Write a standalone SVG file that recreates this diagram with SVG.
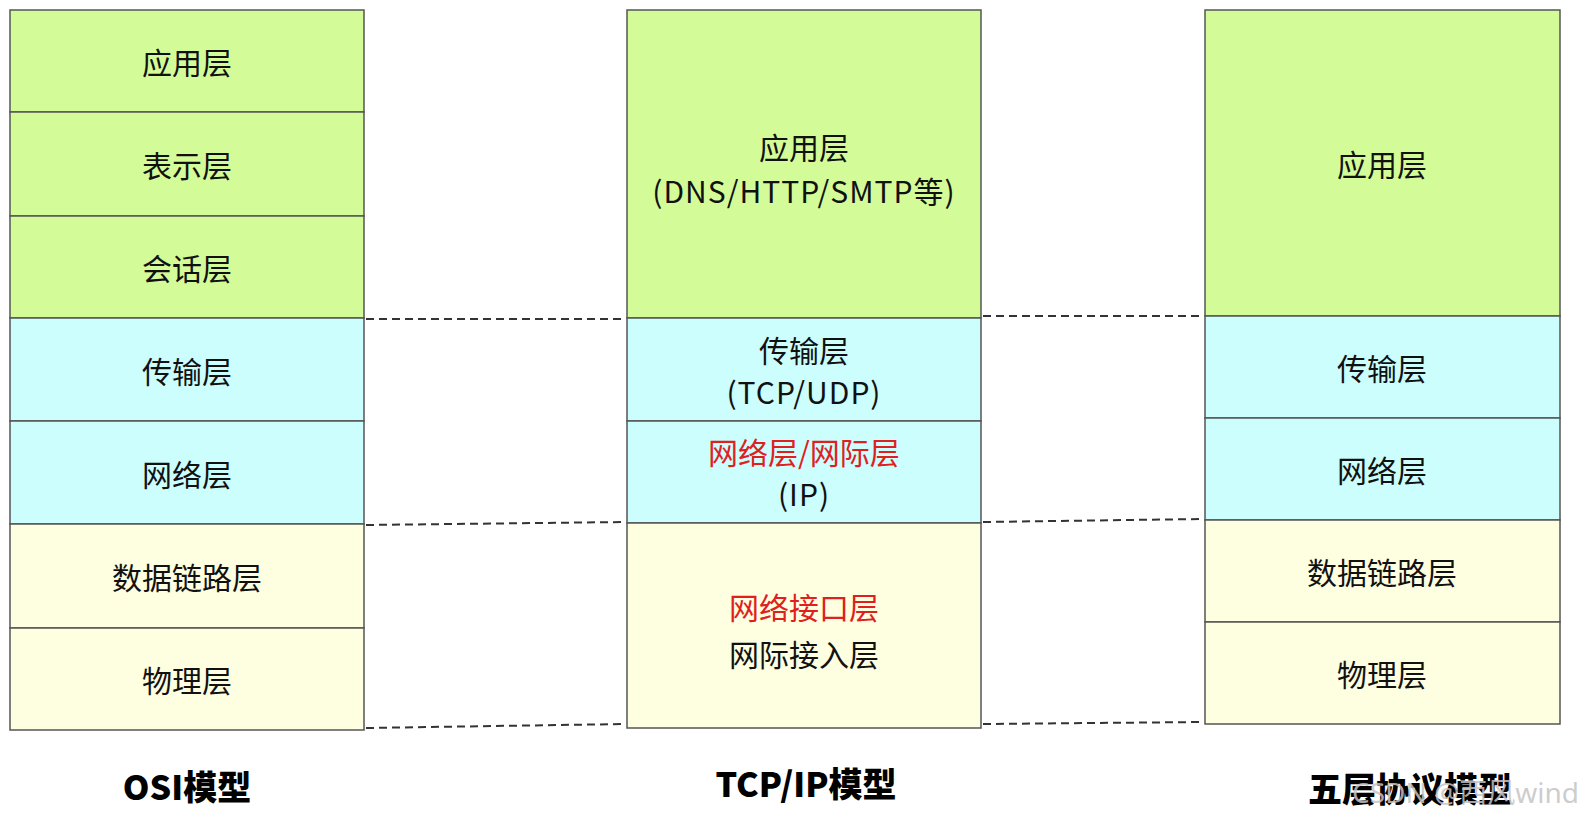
<svg xmlns="http://www.w3.org/2000/svg" width="1593" height="828" viewBox="0 0 1593 828">
<style>
.g{fill:#d3fc98}
.b{fill:#ccfefd}
.y{fill:#fefee0}
.cell{stroke:#555;stroke-width:1.5}
.t{font-family:"Noto Sans CJK SC","Noto Sans",sans-serif;font-size:30px;fill:#111;text-anchor:middle}
.l{letter-spacing:1px}
.r{fill:#e0201e}
.h{font-family:"Noto Sans CJK SC","Noto Sans",sans-serif;font-size:34px;font-weight:900;fill:#000;text-anchor:middle}
.d{stroke:#333;stroke-width:2;stroke-dasharray:8 5;fill:none}
.wm{font-family:"Noto Sans","Noto Sans CJK SC",sans-serif;font-size:28px;fill:#c4c4c4;fill-opacity:0.85}
</style>
<rect width="1593" height="828" fill="#fff"/>
<g id="osi">
<rect class="cell g" x="10" y="10" width="354" height="102"/>
<rect class="cell g" x="10" y="112" width="354" height="104"/>
<rect class="cell g" x="10" y="216" width="354" height="102"/>
<rect class="cell b" x="10" y="318" width="354" height="103"/>
<rect class="cell b" x="10" y="421" width="354" height="103"/>
<rect class="cell y" x="10" y="524" width="354" height="104"/>
<rect class="cell y" x="10" y="628" width="354" height="102"/>
<text class="t" x="187" y="74">应用层</text>
<text class="t" x="187" y="177">表示层</text>
<text class="t" x="187" y="280">会话层</text>
<text class="t" x="187" y="383">传输层</text>
<text class="t" x="187" y="486">网络层</text>
<text class="t" x="187" y="589">数据链路层</text>
<text class="t" x="187" y="692">物理层</text>
</g>
<g id="tcpip">
<rect class="cell g" x="627" y="10" width="354" height="308"/>
<rect class="cell b" x="627" y="318" width="354" height="103"/>
<rect class="cell b" x="627" y="421" width="354" height="102"/>
<rect class="cell y" x="627" y="523" width="354" height="205"/>
<text class="t" x="804" y="159">应用层</text>
<text class="t l" x="804" y="203">(DNS/HTTP/SMTP等)</text>
<text class="t" x="804" y="362">传输层</text>
<text class="t l" x="804" y="404">(TCP/UDP)</text>
<text class="t r" x="804" y="464">网络层/网际层</text>
<text class="t l" x="804" y="506">(IP)</text>
<text class="t r" x="804" y="619">网络接口层</text>
<text class="t" x="804" y="666">网际接入层</text>
</g>
<g id="five">
<rect class="cell g" x="1205" y="10" width="355" height="306"/>
<rect class="cell b" x="1205" y="316" width="355" height="102"/>
<rect class="cell b" x="1205" y="418" width="355" height="102"/>
<rect class="cell y" x="1205" y="520" width="355" height="102"/>
<rect class="cell y" x="1205" y="622" width="355" height="102"/>
<text class="t" x="1382" y="176">应用层</text>
<text class="t" x="1382" y="380">传输层</text>
<text class="t" x="1382" y="482">网络层</text>
<text class="t" x="1382" y="584">数据链路层</text>
<text class="t" x="1382" y="686">物理层</text>
</g>
<g id="connectors">
<line class="d" x1="366" y1="319" x2="625" y2="319"/>
<line class="d" x1="366" y1="525" x2="625" y2="522"/>
<line class="d" x1="366" y1="728" x2="625" y2="724"/>
<line class="d" x1="983" y1="316" x2="1203" y2="316"/>
<line class="d" x1="983" y1="522" x2="1203" y2="519"/>
<line class="d" x1="983" y1="724" x2="1203" y2="722"/>
</g>
<g id="titles">
<text class="h" x="187" y="800">OSI模型</text>
<text class="h" x="806" y="797">TCP/IP模型</text>
<text class="h" x="1410" y="802">五层协议模型</text>
</g>
<text class="wm" x="1352" y="803">CSDN @西风wind</text>
</svg>
